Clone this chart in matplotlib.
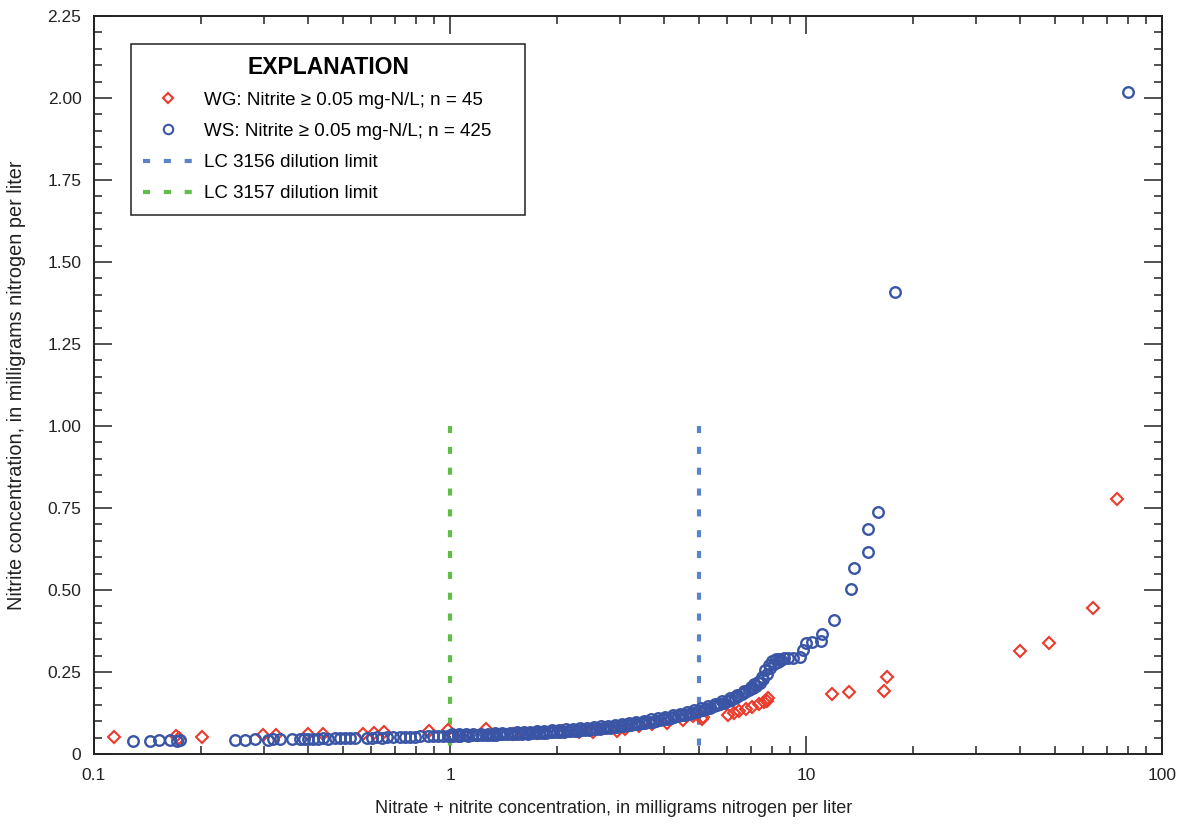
import matplotlib
matplotlib.use('Agg')
import matplotlib.pyplot as plt
from matplotlib.lines import Line2D
from matplotlib.ticker import FixedLocator, NullFormatter

plt.rcParams['font.family'] = ['Liberation Sans Narrow', 'Liberation Sans', 'DejaVu Sans']

# WG samples (diamonds), nitrite >= 0.05 mg-N/L, n = 45
wg_x = [0.114, 0.170, 0.173, 0.201, 0.298, 0.325, 0.399, 0.440, 0.570, 0.612,
        0.653, 0.873, 0.987, 1.26, 1.50, 1.75, 2.06, 2.30, 2.52, 2.94,
        3.10, 3.40, 3.70, 4.07, 4.51, 4.80, 5.10, 5.14, 6.04, 6.28,
        6.49, 6.78, 7.05, 7.38, 7.60, 7.77, 7.82, 11.8, 13.2, 16.6,
        16.9, 39.9, 48.2, 64.0, 74.8]
wg_y = [0.052, 0.055, 0.050, 0.052, 0.058, 0.058, 0.061, 0.061, 0.061, 0.064,
        0.067, 0.070, 0.073, 0.076, 0.062, 0.064, 0.070, 0.068, 0.067, 0.070,
        0.076, 0.085, 0.090, 0.095, 0.104, 0.115, 0.107, 0.113, 0.119, 0.125,
        0.131, 0.137, 0.143, 0.152, 0.160, 0.162, 0.171, 0.183, 0.189, 0.192,
        0.235, 0.314, 0.338, 0.445, 0.777]

# WS samples (circles), nitrite >= 0.05 mg-N/L, n = 425
ws_x = [0.129, 0.144, 0.152, 0.163, 0.171, 0.174, 0.249, 0.266, 0.283, 0.308,
        0.318, 0.333, 0.360, 0.379, 0.389, 0.399, 0.412, 0.426, 0.440, 0.454,
        0.475, 0.491, 0.507, 0.524, 0.541, 0.585, 0.604, 0.624, 0.644, 0.665,
        0.692, 0.724, 0.748, 0.772, 0.797, 0.824, 0.867, 0.896, 0.925, 0.955,
        0.987,
        1.00, 1.02, 1.05, 1.07, 1.10, 1.12, 1.15, 1.18, 1.20, 1.23,
        1.26, 1.29, 1.32, 1.35, 1.38, 1.41, 1.45, 1.48, 1.52, 1.55,
        1.59, 1.62, 1.66, 1.70, 1.74, 1.78, 1.82, 1.86, 1.91, 1.95,
        2.00, 2.04, 2.09, 2.14, 2.19, 2.24, 2.29, 2.34, 2.40, 2.45,
        2.51, 2.57, 2.63, 2.69, 2.75, 2.81, 2.88, 2.95, 3.02, 3.09,
        3.16, 3.23, 3.31, 3.38, 3.46, 3.54, 3.63, 3.71, 3.80, 3.89,
        3.98, 4.07, 4.17, 4.27, 4.37, 4.47, 4.57, 4.68, 4.79, 4.90,
        5.01, 5.13, 5.25, 5.37, 5.50, 5.62, 5.75, 5.89, 6.03, 6.17,
        6.31, 6.46, 6.61, 6.76, 6.92, 7.08, 7.24, 7.41, 7.59, 7.76,
        7.94, 8.13, 8.32, 8.51,
        1.01, 1.06, 1.11, 1.16, 1.22, 1.28, 1.34, 1.40, 1.47, 1.54,
        1.61, 1.68, 1.76, 1.84, 1.93, 2.02, 2.12, 2.22, 2.32, 2.43,
        2.54, 2.66, 2.78, 2.91, 3.05, 3.19, 3.34, 3.50, 3.67, 3.84,
        4.02, 4.22, 4.42, 4.63, 4.84, 5.07, 5.31, 5.56, 5.82, 6.10,
        6.38, 6.68, 6.99, 7.16, 7.32, 7.50, 7.67, 7.85, 8.03, 8.22,
        8.41, 8.70, 8.90, 9.20,
        9.62, 9.80, 10.0, 10.4, 11.0, 11.1, 12.0, 13.4, 13.6, 14.9,
        14.9, 15.9, 17.8, 80.2]
ws_y = [0.040, 0.041, 0.042, 0.043, 0.041, 0.043, 0.044, 0.044, 0.046, 0.044,
        0.045, 0.045, 0.047, 0.046, 0.047, 0.046, 0.047, 0.047, 0.048, 0.047,
        0.048, 0.049, 0.048, 0.049, 0.049, 0.050, 0.050, 0.051, 0.050, 0.051,
        0.052, 0.052, 0.053, 0.052, 0.053, 0.054, 0.054, 0.055, 0.055, 0.056,
        0.056,
        0.055, 0.056, 0.056, 0.055, 0.057, 0.056, 0.057, 0.058, 0.057, 0.058,
        0.058, 0.059, 0.058, 0.059, 0.060, 0.060, 0.061, 0.060, 0.061, 0.062,
        0.062, 0.063, 0.062, 0.063, 0.064, 0.064, 0.065, 0.065, 0.066, 0.066,
        0.067, 0.068, 0.068, 0.069, 0.070, 0.071, 0.071, 0.072, 0.073, 0.074,
        0.075, 0.076, 0.077, 0.078, 0.079, 0.080, 0.081, 0.083, 0.084, 0.085,
        0.087, 0.088, 0.090, 0.092, 0.094, 0.096, 0.097, 0.099, 0.101, 0.103,
        0.106, 0.108, 0.110, 0.113, 0.115, 0.118, 0.120, 0.123, 0.126, 0.129,
        0.132, 0.135, 0.138, 0.141, 0.145, 0.148, 0.152, 0.156, 0.161, 0.166,
        0.172, 0.178, 0.184, 0.190, 0.196, 0.202, 0.208, 0.215, 0.228, 0.245,
        0.262, 0.275, 0.282, 0.288,
        0.060, 0.060, 0.061, 0.061, 0.062, 0.062, 0.063, 0.064, 0.065, 0.066,
        0.067, 0.068, 0.069, 0.070, 0.072, 0.073, 0.075, 0.076, 0.078, 0.080,
        0.082, 0.084, 0.086, 0.089, 0.092, 0.095, 0.098, 0.102, 0.106, 0.110,
        0.114, 0.118, 0.123, 0.128, 0.134, 0.140, 0.146, 0.153, 0.161, 0.170,
        0.181, 0.192, 0.204, 0.212, 0.220, 0.236, 0.255, 0.270, 0.283, 0.289,
        0.291, 0.293, 0.293, 0.294,
        0.296, 0.316, 0.338, 0.341, 0.344, 0.366, 0.409, 0.503, 0.567, 0.616,
        0.686, 0.738, 1.409, 2.018]

# dilution limits (x position, line top)
lc3156_x = 5.0
lc3157_x = 1.0
limit_top = 1.0

x_ticks = [0.1, 1, 10, 100]
x_labels = ['0.1', '1', '10', '100']
x_minor = [0.2, 0.3, 0.4, 0.5, 0.6, 0.7, 0.8, 0.9,
           2, 3, 4, 5, 6, 7, 8, 9,
           20, 30, 40, 50, 60, 70, 80, 90]
y_ticks = [0, 0.25, 0.50, 0.75, 1.00, 1.25, 1.50, 1.75, 2.00, 2.25]
y_labels = ['0', '0.25', '0.50', '0.75', '1.00', '1.25', '1.50', '1.75', '2.00', '2.25']
y_minor = [i * 0.05 for i in range(46)]

red = '#ec3a2a'
blue = '#3a55a6'
blue_line = '#5a83c9'
green_line = '#5fbd48'
dash = (1.7, 3.3)

fig = plt.figure(figsize=(11.82, 8.24), dpi=100)
ax = fig.add_axes([94 / 1182, 70 / 824, 1068 / 1182, 738 / 824])

# dilution limit lines (drawn top-down so the dash pattern starts at 1.0)
ax.plot([lc3156_x, lc3156_x], [limit_top, 0], color=blue_line, lw=3, dashes=dash)
ax.plot([lc3157_x, lc3157_x], [limit_top, 0], color=green_line, lw=3, dashes=dash)

# data points
ax.plot(wg_x, wg_y, linestyle='none', marker='D', ms=5.8, mfc='none',
        mec=red, mew=1.5)
ax.plot(ws_x, ws_y, linestyle='none', marker='o', ms=7.6, mfc='none',
        mec=blue, mew=1.7)

ax.set_xscale('log')
ax.set_xlim(0.1, 100)
ax.set_ylim(0, 2.25)

ax.xaxis.set_major_locator(FixedLocator(x_ticks))
ax.xaxis.set_minor_locator(FixedLocator(x_minor))
ax.set_xticklabels(x_labels)
ax.xaxis.set_minor_formatter(NullFormatter())
ax.yaxis.set_major_locator(FixedLocator(y_ticks))
ax.yaxis.set_minor_locator(FixedLocator(y_minor))
ax.set_yticklabels(y_labels)

ax.tick_params(which='both', direction='in', top=True, right=True, width=1.1,
               color='#222222', labelsize=12.5, labelcolor='#222222')
ax.tick_params(which='major', length=13)
ax.tick_params(which='minor', length=6)
ax.tick_params(axis='x', which='both', pad=10)
ax.tick_params(axis='y', which='both', pad=9)
for s in ax.spines.values():
    s.set_linewidth(1.4)
    s.set_color('#222222')

ax.set_xlabel('Nitrate + nitrite concentration, in milligrams nitrogen per liter',
              fontsize=13, color='#222222')
ax.xaxis.set_label_coords((614 - 94) / 1068, -0.062)
ax.set_ylabel('Nitrite concentration, in milligrams nitrogen per liter',
              fontsize=14.3, color='#222222')
ax.yaxis.set_label_coords(-0.064, 0.5)

# legend
handles = [
    Line2D([], [], linestyle='none', marker='D', ms=5.5, mfc='none', mec=red, mew=1.5),
    Line2D([], [], linestyle='none', marker='o', ms=6.8, mfc='none', mec=blue, mew=1.5),
    Line2D([], [], color=blue_line, lw=3, dashes=dash),
    Line2D([], [], color=green_line, lw=3, dashes=dash),
]
labels = ['WG: Nitrite \u2265 0.05 mg-N/L; n = 45',
          'WS: Nitrite \u2265 0.05 mg-N/L; n = 425',
          'LC 3156 dilution limit',
          'LC 3157 dilution limit']
leg = ax.legend(handles, labels, loc='upper left',
                bbox_to_anchor=(37 / 1068, (754 - 44) / 738, 394 / 1068, 0.0),
                mode='expand', borderaxespad=0, fontsize=13.5,
                title='EXPLANATION', title_fontproperties={'weight': 'bold', 'size': 16.5},
                fancybox=False, framealpha=1, edgecolor='#222222',
                handlelength=2.6, handletextpad=0.65, labelspacing=0.75,
                borderpad=0.65)
leg.get_frame().set_linewidth(1.1)
leg._legend_box.sep = 9

plt.savefig('out.png', dpi=100)
